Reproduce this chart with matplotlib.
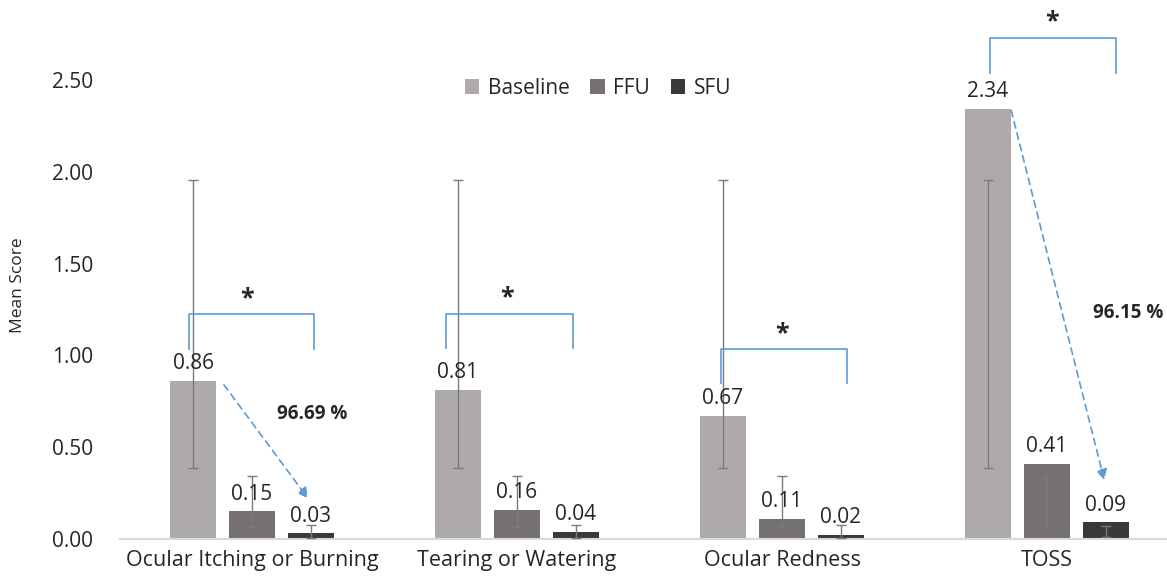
import matplotlib.pyplot as plt
import numpy as np

# data
groups = ["Ocular Itching or Burning", "Tearing or Watering", "Ocular Redness", "TOSS"]
baseline = [0.86, 0.81, 0.67, 2.34]
ffu = [0.15, 0.16, 0.11, 0.41]
sfu = [0.03, 0.04, 0.02, 0.09]

# error bar ends (low, high) as drawn in the reference
baseline_lo = [0.385, 0.385, 0.385, 0.385]
baseline_hi = [1.953, 1.953, 1.953, 1.953]
ffu_lo = [0.068, 0.068, 0.068, 0.065]
ffu_hi = [0.342, 0.342, 0.342, 0.336]
sfu_lo = [0.005, 0.008, 0.008, 0.01]
sfu_hi = [0.078, 0.078, 0.078, 0.072]

series_names = ["Baseline", "FFU", "SFU"]
series_colors = ["#AEAAAA", "#767171", "#3A3838"]
reductions = {0: "96.69 %", 3: "96.15 %"}

plt.rcParams['font.family'] = ['Open Sans', 'DejaVu Sans']
TXT = "#262626"
BLUE = "#5B9BD5"

fig = plt.figure(figsize=(11.67, 5.82), dpi=100)
ax = fig.add_axes([119.5 / 1167, 43 / 582, 1060 / 1167, 459 / 582])

x = np.arange(len(groups))
w = 0.174
step = 0.2226

all_vals = [baseline, ffu, sfu]
all_lo = [baseline_lo, ffu_lo, sfu_lo]
all_hi = [baseline_hi, ffu_hi, sfu_hi]

for i, (vals, lo, hi) in enumerate(zip(all_vals, all_lo, all_hi)):
    pos = x + (i - 1) * step
    bars = ax.bar(pos, vals, w, color=series_colors[i], label=series_names[i], zorder=2)
    lo = np.array(lo)
    hi = np.array(hi)
    mid = (lo + hi) / 2
    ax.errorbar(pos, mid, yerr=(hi - lo) / 2, fmt='none', ecolor="#7A7A7A",
                elinewidth=1, capsize=3.5, capthick=1, zorder=3)
    ax.bar_label(bars, labels=[f"{v:.2f}" for v in vals], padding=5,
                 fontsize=15, color=TXT)

# significance brackets: (left, right, top, bottom, star x offset)
brackets = [
    (-0.239, 0.235, 1.226, 1.036, -0.019),
    (-0.267, 0.212, 1.227, 1.038, -0.037),
    (-0.229, 0.247, 1.033, 0.852, 0.0),
    (-0.215, 0.262, 2.730, 2.540, 0.019),
]
for g, (l, r, top, bot, sx) in enumerate(brackets):
    ax.plot([g + l, g + l, g + r, g + r], [bot, top, top, bot], color=BLUE,
            lw=1.2, clip_on=False, zorder=4)
    ax.text(g + sx, top + 0.085, "*", ha='center', va='center', fontsize=18,
            fontweight='bold', color=TXT, clip_on=False)

# dashed reduction arrows
arrows = {0: ((-0.106, 0.84), (0.212, 0.22)), 3: ((-0.135, 2.335), (0.216, 0.32))}
text_pos = {0: (0.095, 0.68), 3: (0.172, 1.229)}
for g, ((x0, y0), (x1, y1)) in arrows.items():
    ax.annotate("", xy=(g + x1, y1), xytext=(g + x0, y0),
                arrowprops=dict(arrowstyle='-|>', color=BLUE, lw=1.2,
                                linestyle=(0, (4, 3)), mutation_scale=16,
                                shrinkA=0, shrinkB=0), zorder=4)
    tx, ty = text_pos[g]
    ax.text(g + tx, ty, reductions[g], ha='left', va='center', fontsize=13.5,
            fontweight='bold', color=TXT, clip_on=False)

ax.set_xlim(-0.5, 3.5)
ax.set_ylim(0, 2.5)
ax.set_xticks(x)
ax.set_xticklabels(groups, fontsize=15.5, color=TXT)
ax.set_yticks(np.arange(0, 2.51, 0.5))
ax.set_yticklabels([f"{t:.2f}" for t in np.arange(0, 2.51, 0.5)], fontsize=15, color=TXT)
ax.tick_params(axis='both', length=0)
ax.tick_params(axis='y', pad=19)
ax.tick_params(axis='x', pad=8)
for s in ['left', 'top', 'right']:
    ax.spines[s].set_visible(False)
ax.spines['bottom'].set_color("#D9D9D9")
ax.spines['bottom'].set_linewidth(1.5)

fig.text(18 / 1167, 1 - 285 / 582, "Mean Score", rotation=90, ha='center',
         va='center', fontsize=12.5, color=TXT)

fig.legend(loc='center', bbox_to_anchor=(598 / 1167, 1 - 88 / 582), ncol=3,
           frameon=False, fontsize=15, handlelength=0.7, handleheight=0.7,
           handletextpad=0.4, columnspacing=1.0, labelcolor=TXT)

fig.savefig("out.png", dpi=100)
